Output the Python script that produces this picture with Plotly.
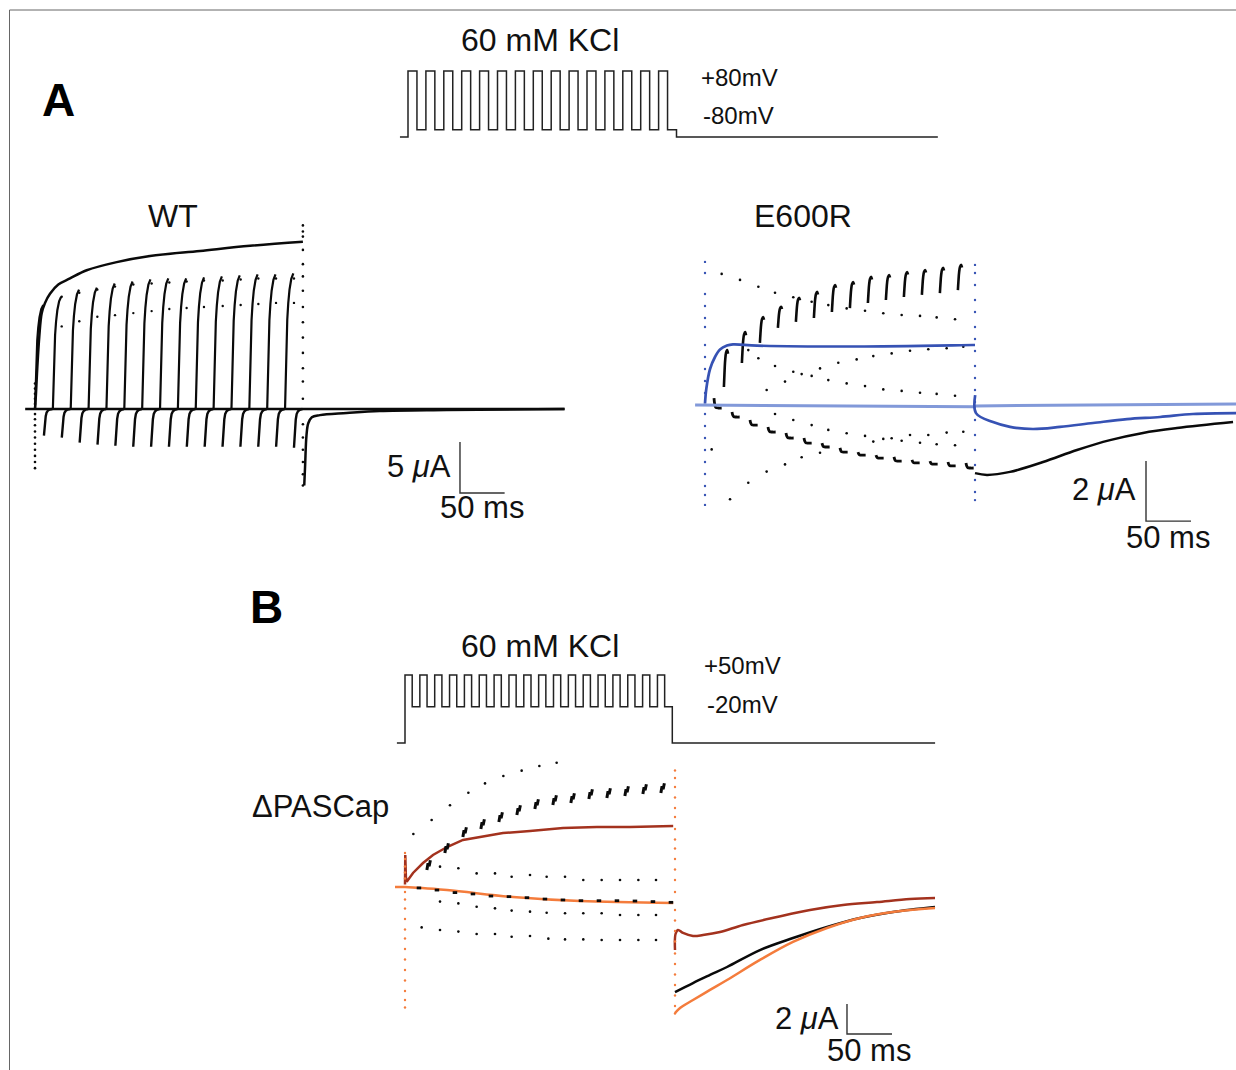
import plotly.graph_objects as go

W, H = 1236, 1070

# ---------------- stimulation protocols (mV vs ms) ----------------
PROTO_A_N = 15
PROTO_A_PERIOD_MS = 20
PROTO_A_WIDTH_MS = 10
PROTO_A_LEVELS_MV = [80, -80]
PROTO_A_HOLD_MV = -100
PROTO_A_SPAN_MS = [-9, 592]

PROTO_B_N = 18
PROTO_B_PERIOD_MS = 16.5
PROTO_B_WIDTH_MS = 8
PROTO_B_LEVELS_MV = [50, -20]
PROTO_B_HOLD_MV = -100
PROTO_B_SPAN_MS = [-9, 589]

PULSE_PERIOD_MS = 20
PULSE_WIDTH_MS = 10

# ---------------- WT currents (uA vs ms) ----------------
WT_ENV_T = [0, 1.1, 2.6, 4.8, 7.5, 11.2, 16.8, 26.1, 39.2, 57.9, 91.5, 128.8, 184.8, 240.8, 300]
WT_ENV_I = [0, 1.5, 4.1, 7.1, 9.4, 10.4, 11.3, 12.2, 12.8, 13.6, 14.4, 15.0, 15.5, 16.0, 16.4]
WT_TAIL_T = [301.5, 302.5, 304.0, 306.0, 310.0, 319.0, 349.0, 386.0, 461.0, 593.0]
WT_TAIL_I = [-7.5, -5.5, -2.6, -1.4, -0.8, -0.6, -0.4, -0.2, -0.1, 0.0]
WT_BASE_T = [-11, 593]
WT_BASE_I = [0, 0]
WT_SPIKE_PEAK = [10.2, 11.0, 11.7, 11.9, 12.3, 12.5, 12.7, 12.8, 12.8, 12.9, 13.0, 13.1, 13.2, 13.2, 13.3]
WT_SPIKE_MIN = [-2.6, -2.8, -3.3, -3.5, -3.6, -3.7, -3.7, -3.7, -3.7, -3.7, -3.7, -3.7, -3.7, -3.7, -3.8]
WT_RISE_DT = [0, 0.4, 0.9, 1.6, 2.5, 3.6, 5.0, 7.0, 9.3]
WT_RISE_FRAC = [0, 0.15, 0.33, 0.5, 0.66, 0.78, 0.88, 0.96, 1.0]
WT_FALL_DT = [0, 0.5, 1.2, 2.0, 3.0, 4.5, 6.5, 9.5]
WT_FALL_FRAC = [0, 0.2, 0.5, 0.73, 0.87, 0.94, 0.98, 1.0]
WT_CAP0_I = [2.5, 2.0, 1.5, 1.0, 0.5, -0.5, -1.0, -1.6, -2.2, -2.8, -3.4, -4.0, -4.6, -5.2, -5.8]
WT_CAP1_I = [18.0, 17.4, 16.9, 15.6, 14.2, 13.0, 11.6, 10.0, 8.5, 7.0, 5.5, 4.0, 2.7, 1.0,
             -1.5, -2.8, -4.0, -5.2, -6.4, -7.5]
WT_DOT_T = [29.9, 49.6, 69.8, 89.6, 110.1, 130.6, 150.4, 169.8, 189.2, 210.2, 230.3, 250.1, 269.9, 290.0]
WT_DOT_HI = [11.0, 11.4, 11.7, 12.0, 12.2, 12.3, 12.4, 12.5, 12.6, 12.6, 12.7, 12.8, 12.8, 12.8]
WT_DOT_LO = [8.1, 8.6, 9.05, 9.2, 9.4, 9.6, 9.8, 9.9, 10.0, 10.1, 10.2, 10.3, 10.4, 10.4]

# ---------------- E600R currents ----------------
E6_LIGHT_T = [-11, 150, 299, 301, 590]
E6_LIGHT_I = [0.0, -0.02, -0.06, -0.03, 0.03]
E6_BLUE_T = [0, 1.5, 5.6, 11.1, 16.7, 24.4, 31.1, 57.8, 168.9, 297.8, 300]
E6_BLUE_I = [0.05, 0.55, 1.2, 1.6, 1.85, 1.98, 2.02, 1.98, 1.95, 2.0, 2.0]
E6_BLUE_TAIL_T = [300.2, 301.1, 320, 338.9, 364.4, 394.4, 431.1, 468.9, 505.6, 542.2, 590]
E6_BLUE_TAIL_I = [0.33, -0.27, -0.57, -0.73, -0.8, -0.73, -0.6, -0.47, -0.4, -0.3, -0.27]
E6_BLACK_TAIL_T = [300, 313.3, 338.9, 375.6, 413.3, 450, 486.7, 524.4, 586.7]
E6_BLACK_TAIL_I = [-2.27, -2.33, -2.23, -1.9, -1.5, -1.17, -0.93, -0.77, -0.57]
E6_POS_START = [0.6, 1.4, 2.07, 2.57, 2.77, 2.9, 3.1, 3.23, 3.4, 3.5, 3.6, 3.67, 3.73, 3.83]
E6_POS_PEAK = [1.83, 2.43, 2.93, 3.27, 3.57, 3.77, 4.0, 4.1, 4.27, 4.33, 4.43, 4.5, 4.57, 4.67]
E6_NEG_START = [0.23, -0.23, -0.5, -0.73, -0.93, -1.1, -1.27, -1.43, -1.57, -1.67, -1.73, -1.83,
                -1.87, -1.9, -1.93]
E6_NEG_END = [-0.1, -0.4, -0.67, -0.9, -1.1, -1.27, -1.4, -1.57, -1.67, -1.77, -1.87, -1.93,
              -1.97, -2.03, -2.1]
E6_POS_DT = [1.0, 1.6, 2.4, 3.4, 4.6, 5.6]
E6_POS_FRAC = [0, 0.35, 0.72, 0.93, 1.0, 0.9]
E6_NEG_DT = [0, 0.8, 2.0, 5.0, 8.5]
E6_NEG_FRAC = [0, 0.6, 0.95, 1.0, 1.0]
E6_CAP0_I = [4.77, 4.4, 3.7, 3.3, 2.9, 2.6, 2.0, 1.6, 1.2, 0.8, 0.4, -0.3, -0.7, -1.1, -1.5,
             -1.9, -2.3, -2.7, -3.0, -3.33]
E6_CAP1_I = [4.67, 4.4, 4.0, 3.5, 3.1, 2.6, 2.2, 1.8, 1.3, 0.9, 0.5, 0.1, -0.5, -1.0, -1.5,
             -2.0, -2.5, -2.9, -3.17]
E6_DOTS_A_T = [18.5, 38.9, 59.3, 77.8, 98.1, 118.5, 137.0, 157.4, 177.8, 198.1, 218.5, 238.9, 257.4, 277.8]
E6_DOTS_A_I = [4.37, 4.17, 3.94, 3.74, 3.59, 3.44, 3.33, 3.22, 3.14, 3.06, 3.0, 2.97, 2.92, 2.86]
E6_DOTS_B_T = [48.1, 59.3, 77.8, 98.1, 118.5, 137.0, 157.4, 177.8, 198.1, 218.5, 238.9, 257.4, 277.8]
E6_DOTS_B_I = [1.83, 1.56, 1.3, 1.11, 0.97, 0.83, 0.72, 0.63, 0.52, 0.47, 0.41, 0.37, 0.31]
E6_DOTS_C_T = [68.5, 88.9, 107.4, 127.8, 148.1, 168.5, 187.0, 207.4, 227.8, 248.1, 268.5, 287.0]
E6_DOTS_C_I = [0.5, 0.78, 1.03, 1.22, 1.41, 1.52, 1.63, 1.72, 1.81, 1.86, 1.89, 1.94]
E6_DOTS_D_T = [7.4, 27.8, 48.1, 68.5, 88.9, 107.4, 127.8]
E6_DOTS_D_I = [-1.48, -3.14, -2.59, -2.22, -1.98, -1.74, -1.59]
E6_DOTS_E_T = [77.8, 98.1, 118.5, 137.0, 157.4, 177.8, 198.1, 218.5, 238.9, 257.4, 277.8]
E6_DOTS_E_I = [-0.3, -0.5, -0.67, -0.83, -0.94, -1.03, -1.13, -1.19, -1.26, -1.31, -1.34]
E6_DOTS_F_T = [187.0, 207.4, 227.8, 248.1, 268.5, 287.0]
E6_DOTS_F_I = [-1.22, -1.11, -1.0, -1.0, -0.92, -0.89]

# ---------------- dPASCap currents ----------------
B_RED_T = [0, 0.3, 1.0, 1.9, 8.9, 20, 31.1, 46.7, 64.4, 83.3, 108.9, 138.9, 175.6, 213.3, 250, 298]
B_RED_I = [0.1, 2.07, 0.6, 0.29, 0.87, 1.53, 2.07, 2.6, 3.07, 3.27, 3.53, 3.67, 3.87, 3.93, 3.93, 4.0]
B_RED_TAIL_T = [300, 300.6, 303.3, 308.9, 320, 331.1, 350, 375.6, 413.3, 450, 486.7, 524.4, 561.1, 588.9]
B_RED_TAIL_I = [-4.27, -3.2, -2.93, -3.13, -3.33, -3.27, -3.07, -2.6, -2.07, -1.6, -1.27, -1.07, -0.87, -0.8]
B_ORANGE_T = [-11.1, 0, 46.7, 120, 194.4, 298]
B_ORANGE_I = [-0.07, -0.07, -0.27, -0.73, -1.0, -1.13]
B_ORANGE_TAIL_T = [300, 305.6, 320, 338.9, 357.8, 394.4, 431.1, 468.9, 505.6, 542.2, 588.9]
B_ORANGE_TAIL_I = [-8.47, -8.13, -7.6, -6.93, -6.27, -4.93, -3.73, -2.8, -2.13, -1.73, -1.47]
B_BLACK_TAIL_T = [300, 320, 338.9, 357.8, 394.4, 431.1, 468.9, 505.6, 542.2, 588.9]
B_BLACK_TAIL_I = [-7.07, -6.47, -5.93, -5.4, -4.27, -3.47, -2.73, -2.13, -1.73, -1.4]
B_UP_PEAK = [1.47, 2.6, 3.67, 4.2, 4.67, 5.13, 5.53, 5.8, 5.93, 6.2, 6.27, 6.4, 6.53, 6.6]
B_LOW_LEVEL = [-0.13, -0.27, -0.44, -0.53, -0.67, -0.71, -0.78, -0.87, -0.93, -0.98, -0.98, -0.98,
               -1.0, -1.04, -1.09]
B_UP_DT = [4.3, 5.6, 6.8, 8.2]
B_UP_OFF = [-0.4, 0.05, -0.15, 0.25]
B_LOW_DT = [3, 8]
B_CAP0_I = [2.2, 1.8, 1.3, 0.9, 0.5, -0.4, -0.9, -1.5, -2.2, -2.9, -3.5, -4.2, -4.9, -5.6, -6.3,
            -7.0, -7.6, -8.1]
B_CAP1_I = [7.7, 7.2, 6.6, 5.9, 5.2, 4.6, 3.8, 3.1, 2.5, 1.8, 1.1, 0.4, -0.4, -1.6, -2.3, -3.0,
            -3.7, -4.5, -5.2, -5.9, -6.6, -7.3, -8.0, -8.5]
B_DOTS_U_T = [9.3, 29.6, 50, 70.4, 88.9, 109.3, 129.6, 149.3, 168.5]
B_DOTS_U_I = [3.47, 4.4, 5.38, 6.22, 6.84, 7.33, 7.69, 8.0, 8.22]
B_DOTS_ROW_T = [38.9, 59.3, 79.6, 100, 118.5, 138.9, 157.4, 177.8, 198.1, 218.5, 238.9, 259.3, 278.9]
B_DOTS_MH_I = [1.29, 1.18, 0.84, 0.84, 0.62, 0.73, 0.62, 0.62, 0.4, 0.4, 0.4, 0.4, 0.4]
B_DOTS_ML_I = [-1.04, -1.16, -1.38, -1.49, -1.64, -1.71, -1.78, -1.82, -1.82, -1.82, -1.93, -1.93, -1.93]
B_DOTS_L_T = [18.5, 38.9, 59.3, 79.6, 100, 118.5, 138.9, 159.3, 177.8, 198.1, 218.5, 238.9, 259.3, 278.9]
B_DOTS_L_I = [-2.76, -2.93, -3.04, -3.2, -3.2, -3.38, -3.33, -3.51, -3.56, -3.56, -3.6, -3.6, -3.6, -3.6]

# scale bars: (ms, uA)
WT_SCALE = (50, 5)
E6_SCALE = (50, 2)
B_SCALE = (50, 2)

# ---------------- colours ----------------
BLACK = "#0a0a0a"
DARK_BLUE = "#3652b4"
LIGHT_BLUE = "#8299d9"
DARK_RED = "#a3321e"
ORANGE = "#f47c3c"
FONT = "Liberation Sans, Arial, Helvetica, sans-serif"

# ---------------- helpers ----------------
def protocol(n, period, width, levels, hold, span):
    hi, lo = levels
    t, v = [span[0], 0], [hold, hold]
    for k in range(n):
        a = k * period
        b = a + width
        c = a + period
        t += [a, b, b, c]
        v += [hi, hi, lo, lo]
    t += [n * period, span[1]]
    v += [hold, hold]
    return t, v


def shaped(t_starts, dts, fracs, a_vals, b_vals):
    xs, ys = [], []
    for t0, a, b in zip(t_starts, a_vals, b_vals):
        for dt, f in zip(dts, fracs):
            xs.append(t0 + dt)
            ys.append(a + f * (b - a))
        xs.append(None)
        ys.append(None)
    return xs, ys


# axis pixel mapping per panel: x0 px of t=0, px per ms, y0 px of value 0, px per unit
PANELS = {
    "pa": dict(x0=408, sx=0.895, y0=100.3, sy=0.367),
    "wt": dict(x0=35, sx=0.893, y0=409, sy=10.2),
    "e6": dict(x0=705, sx=0.9, y0=405, sy=30),
    "pb": dict(x0=405, sx=0.9, y0=697.7, sy=0.453),
    "dp": dict(x0=405, sx=0.9, y0=886, sy=15),
}
AX = {}
layout_axes = {}
for i, (key, p) in enumerate(PANELS.items(), start=1):
    sfx = "" if i == 1 else str(i)
    AX[key] = ("x" + sfx, "y" + sfx)
    layout_axes["xaxis" + sfx] = dict(domain=[0, 1], range=[-p["x0"] / p["sx"], (W - p["x0"]) / p["sx"]],
                                      visible=False, fixedrange=True, anchor="y" + sfx)
    layout_axes["yaxis" + sfx] = dict(domain=[0, 1], range=[(p["y0"] - H) / p["sy"], p["y0"] / p["sy"]],
                                      visible=False, fixedrange=True, anchor="x" + sfx)

fig = go.Figure()


def line(panel, x, y, color, width, shape="linear"):
    xa, ya = AX[panel]
    fig.add_trace(go.Scatter(x=x, y=y, mode="lines", xaxis=xa, yaxis=ya,
                             line=dict(color=color, width=width, shape=shape),
                             hoverinfo="skip", showlegend=False, connectgaps=False))


def dots(panel, x, y, color, size=2.6):
    xa, ya = AX[panel]
    fig.add_trace(go.Scatter(x=x, y=y, mode="markers", xaxis=xa, yaxis=ya,
                             marker=dict(color=color, size=size, line=dict(width=0)),
                             hoverinfo="skip", showlegend=False))


def scalebar(panel, t_anchor, i_anchor, scale):
    line(panel, [t_anchor, t_anchor, t_anchor + scale[0]],
         [i_anchor + scale[1], i_anchor, i_anchor], "#333333", 1.4)


# ---------------- protocols ----------------
t, v = protocol(PROTO_A_N, PROTO_A_PERIOD_MS, PROTO_A_WIDTH_MS, PROTO_A_LEVELS_MV,
                PROTO_A_HOLD_MV, PROTO_A_SPAN_MS)
line("pa", t, v, "#222222", 1.5)
t, v = protocol(PROTO_B_N, PROTO_B_PERIOD_MS, PROTO_B_WIDTH_MS, PROTO_B_LEVELS_MV,
                PROTO_B_HOLD_MV, PROTO_B_SPAN_MS)
line("pb", t, v, "#222222", 1.5)

# ---------------- WT ----------------
n = len(WT_SPIKE_PEAK)
starts = [k * PULSE_PERIOD_MS for k in range(n)]
x, y = shaped(starts, WT_RISE_DT, WT_RISE_FRAC, [0] * n, WT_SPIKE_PEAK)
line("wt", x, y, BLACK, 2.2)
x, y = shaped([s + PULSE_WIDTH_MS for s in starts], WT_FALL_DT, WT_FALL_FRAC, WT_SPIKE_MIN, [0] * n)
line("wt", x, y, BLACK, 2.4)
line("wt", WT_BASE_T, WT_BASE_I, BLACK, 2.6)
line("wt", WT_ENV_T, WT_ENV_I, BLACK, 2.5, "spline")
line("wt", WT_TAIL_T, WT_TAIL_I, BLACK, 2.5, "spline")
dots("wt", [0] * len(WT_CAP0_I), WT_CAP0_I, BLACK)
dots("wt", [300] * len(WT_CAP1_I), WT_CAP1_I, BLACK)
dots("wt", WT_DOT_T, WT_DOT_HI, BLACK, 2.4)
dots("wt", WT_DOT_T, WT_DOT_LO, BLACK, 2.4)
scalebar("wt", 475.9, -8.24, WT_SCALE)

# ---------------- E600R ----------------
for tt, ii in [(E6_DOTS_A_T, E6_DOTS_A_I), (E6_DOTS_B_T, E6_DOTS_B_I), (E6_DOTS_C_T, E6_DOTS_C_I),
               (E6_DOTS_D_T, E6_DOTS_D_I), (E6_DOTS_E_T, E6_DOTS_E_I), (E6_DOTS_F_T, E6_DOTS_F_I)]:
    dots("e6", tt, ii, BLACK, 2.6)
npos = len(E6_POS_PEAK)
x, y = shaped([(k + 1) * PULSE_PERIOD_MS for k in range(npos)], E6_POS_DT, E6_POS_FRAC,
              E6_POS_START, E6_POS_PEAK)
line("e6", x, y, BLACK, 2.6, "spline")
nneg = len(E6_NEG_END)
x, y = shaped([k * PULSE_PERIOD_MS + PULSE_WIDTH_MS for k in range(nneg)], E6_NEG_DT, E6_NEG_FRAC,
              E6_NEG_START, E6_NEG_END)
line("e6", x, y, BLACK, 2.8, "spline")
line("e6", E6_BLACK_TAIL_T, E6_BLACK_TAIL_I, BLACK, 2.5, "spline")
line("e6", E6_LIGHT_T, E6_LIGHT_I, LIGHT_BLUE, 3.0)
dots("e6", [0] * len(E6_CAP0_I), E6_CAP0_I, DARK_BLUE, 2.4)
dots("e6", [300] * len(E6_CAP1_I), E6_CAP1_I, DARK_BLUE, 2.4)
line("e6", E6_BLUE_T, E6_BLUE_I, DARK_BLUE, 2.7, "spline")
line("e6", E6_BLUE_TAIL_T, E6_BLUE_TAIL_I, DARK_BLUE, 2.7, "spline")
scalebar("e6", 490, -3.87, E6_SCALE)

# ---------------- dPASCap ----------------
line("dp", B_BLACK_TAIL_T, B_BLACK_TAIL_I, BLACK, 2.5, "spline")
line("dp", B_ORANGE_T, B_ORANGE_I, ORANGE, 2.5, "spline")
line("dp", B_ORANGE_TAIL_T, B_ORANGE_TAIL_I, ORANGE, 2.5, "spline")
line("dp", B_RED_T, B_RED_I, DARK_RED, 2.5)
line("dp", B_RED_TAIL_T, B_RED_TAIL_I, DARK_RED, 2.5, "spline")
dots("dp", [0] * len(B_CAP0_I), B_CAP0_I, ORANGE, 2.4)
dots("dp", [300] * len(B_CAP1_I), B_CAP1_I, ORANGE, 2.4)
nb = len(B_UP_PEAK)
xs, ys = [], []
for k in range(nb):
    t0 = (k + 1) * PULSE_PERIOD_MS
    for dt, off in zip(B_UP_DT, B_UP_OFF):
        xs.append(t0 + dt)
        ys.append(B_UP_PEAK[k] + off)
    xs.append(None)
    ys.append(None)
line("dp", xs, ys, BLACK, 3.0)
xs, ys = [], []
for k, lv in enumerate(B_LOW_LEVEL):
    t0 = k * PULSE_PERIOD_MS + PULSE_WIDTH_MS
    for dt in B_LOW_DT:
        xs.append(t0 + dt)
        ys.append(lv)
    xs.append(None)
    ys.append(None)
line("dp", xs, ys, BLACK, 2.8)
dots("dp", B_DOTS_U_T, B_DOTS_U_I, BLACK, 2.6)
dots("dp", B_DOTS_ROW_T, B_DOTS_MH_I, BLACK, 2.6)
dots("dp", B_DOTS_ROW_T, B_DOTS_ML_I, BLACK, 2.6)
dots("dp", B_DOTS_L_T, B_DOTS_L_I, BLACK, 2.6)
scalebar("dp", 491.1, -9.87, B_SCALE)

# ---------------- text ----------------
def label(text, px, py, size, xanchor="center", bold=False, color="#111111"):
    fig.add_annotation(x=px / W, y=1 - py / H, xref="paper", yref="paper", text=text,
                       showarrow=False, xanchor=xanchor, yanchor="middle",
                       font=dict(family=FONT, size=size, color=color,
                                 weight="bold" if bold else "normal"))


label("A", 58, 100, 46, bold=True, color="#000000")
label("B", 266, 607, 46, bold=True, color="#000000")
label("60 mM KCl", 540, 40, 32)
label("+80mV", 699, 78, 24, xanchor="left")
label("-80mV", 701, 116, 24, xanchor="left")
label("WT", 173, 216, 32)
label("E600R", 803, 216, 32)
label("5 <i>μ</i>A", 453, 466, 31, xanchor="right")
label("50 ms", 482, 508, 31)
label("2 <i>μ</i>A", 1138, 490, 31, xanchor="right")
label("50 ms", 1168, 537, 31)
label("ΔPASCap", 250, 806, 31, xanchor="left")
label("60 mM KCl", 540, 646, 32)
label("+50mV", 702, 665, 24, xanchor="left")
label("-20mV", 705, 704, 24, xanchor="left")
label("2 <i>μ</i>A", 841, 1018, 31, xanchor="right")
label("50 ms", 869, 1050, 31)

# frame
fig.add_shape(type="line", xref="paper", yref="paper", x0=9.5 / W, x1=9.5 / W, y0=0, y1=1 - 10 / H,
              line=dict(color="#666666", width=1))
fig.add_shape(type="line", xref="paper", yref="paper", x0=9.5 / W, x1=1, y0=1 - 10 / H, y1=1 - 10 / H,
              line=dict(color="#666666", width=1))

fig.update_layout(width=W, height=H, margin=dict(l=0, r=0, t=0, b=0), autosize=False,
                  paper_bgcolor="white", plot_bgcolor="rgba(0,0,0,0)", showlegend=False,
                  **layout_axes)
fig.write_html("out.html", config={"displayModeBar": False})
